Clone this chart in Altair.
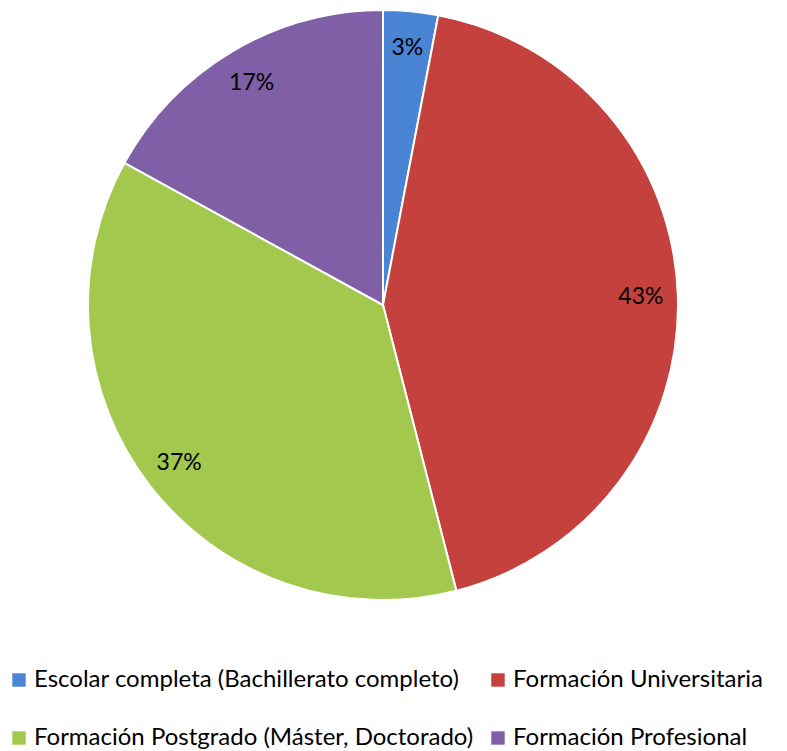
import altair as alt
import pandas as pd

categories = [
    "Escolar completa (Bachillerato completo)",
    "Formación Universitaria",
    "Formación Postgrado (Máster, Doctorado)",
    "Formación Profesional",
]
values = [3, 43, 37, 17]
labels = ["3%", "43%", "37%", "17%"]
colors = ["#4a84d4", "#c4413e", "#a2c84d", "#7f5fa6"]

df = pd.DataFrame({"cat": categories, "val": values, "lab": labels, "order": [0, 1, 2, 3]})

FONT = "Lato"

base = alt.Chart(df).encode(
    theta=alt.Theta("val:Q", stack=True),
    order=alt.Order("order:Q"),
)

color = alt.Color(
    "cat:N",
    scale=alt.Scale(domain=categories, range=colors),
    sort=categories,
    legend=alt.Legend(
        title=None,
        orient="none",
        legendX=-1,
        legendY=660,
        direction="horizontal",
        columns=2,
        gridAlign="none",
        columnPadding=12,
        rowPadding=34,
        symbolType="square",
        symbolSize=180,
        symbolStrokeWidth=0,
        labelFont=FONT,
        labelFontSize=24,
        labelColor="#000000",
        labelOffset=3,
        labelLimit=600,
        padding=0,
    ),
)

pie = base.mark_arc(stroke="white", strokeWidth=2).encode(
    color=color,
    x=alt.value(375),
    y=alt.value(297),
    radius=alt.value(295),
)

text = base.mark_text(font=FONT, fontSize=23, color="#000000").encode(
    text="lab:N",
    x=alt.value(375),
    y=alt.value(297),
    radius=alt.value(258),
)

chart = (
    alt.layer(pie, text)
    .properties(width=771, height=743, autosize=alt.AutoSizeParams(type="none"), padding=0)
    .configure_view(stroke=None)
)

chart.save("out.html", embed_options={"renderer": "svg", "actions": False})
